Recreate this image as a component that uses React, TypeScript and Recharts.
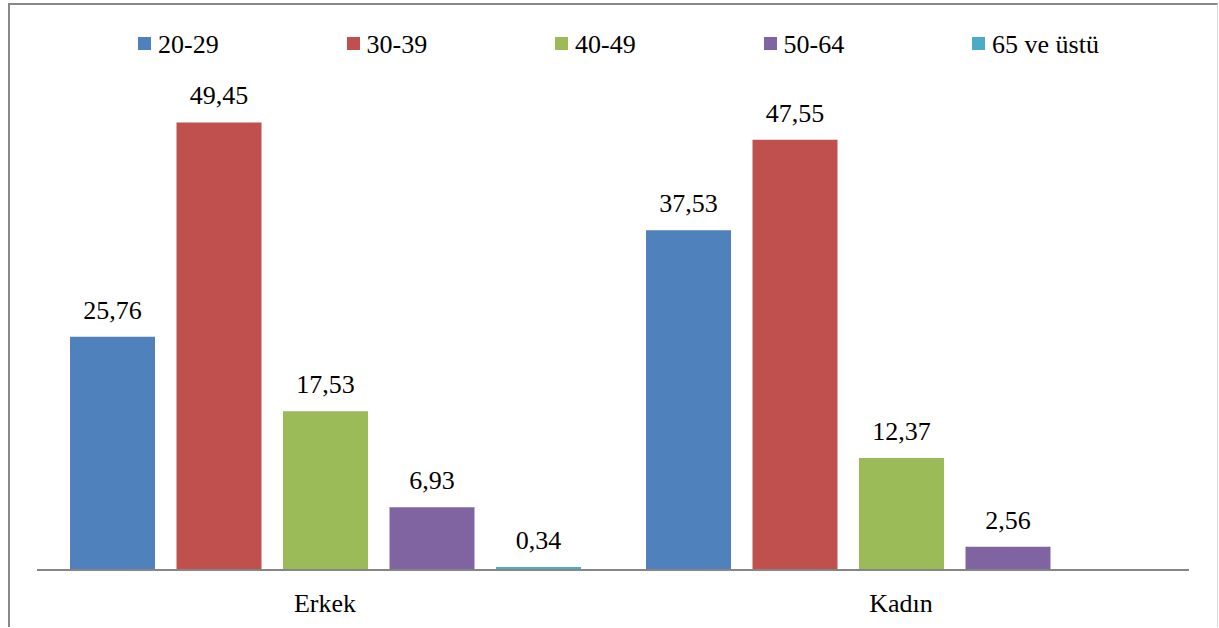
import React from "react";
import { Bar, BarChart, LabelList, XAxis, YAxis } from "recharts";

const groups = ["Erkek", "Kadın"];
const ageBands = ["20-29", "30-39", "40-49", "50-64", "65 ve üstü"];
const bandColors = ["#4F81BD", "#C0504D", "#9BBB59", "#8064A2", "#4BACC6"];

// percentage share of each age band, per group
const share2029 = [25.76, 37.53];
const share3039 = [49.45, 47.55];
const share4049 = [17.53, 12.37];
const share5064 = [6.93, 2.56];
const share65 = [0.34, null];

const seriesValues = [share2029, share3039, share4049, share5064, share65];

const rows = groups.map((g, i) => {
  const row: Record<string, string | number | null> = { group: g };
  ageBands.forEach((band, j) => {
    row[band] = seriesValues[j][i];
  });
  return row;
});

const FONT = "Liberation Serif";

const fmt = (v: number | null | undefined) =>
  v == null ? "" : v.toFixed(2).replace(".", ",");

const ValueLabel = (props: any) => {
  const { x, y, width, value } = props;
  if (value == null) return null;
  return (
    <text x={x + width / 2} y={y - 18} textAnchor="middle" fontFamily={FONT} fontSize={26} fill="#000">
      {fmt(value)}
    </text>
  );
};

const GroupTick = (props: any) => {
  const { x, y, payload } = props;
  return (
    <text x={x} y={y + 40} textAnchor="middle" fontFamily={FONT} fontSize={26} fill="#000">
      {payload.value}
    </text>
  );
};

export default function App() {
  return (
    <div style={{ fontFamily: FONT, fontSize: 26 }}>
      {/* chart frame */}
      <div
        style={{
          position: "absolute",
          left: 8,
          top: 3,
          width: 1207,
          height: 622,
          borderLeft: "2px solid #888",
          borderTop: "2px solid #888",
          borderRight: "1px solid #d9d9d9",
        }}
      />
      {/* legend row */}
      {ageBands.map((band, i) => (
        <div
          key={band}
          style={{ position: "absolute", left: 138 + i * 208.5, top: 28, whiteSpace: "nowrap", lineHeight: "30px", fontFamily: FONT }}
        >
          <span
            style={{
              display: "inline-block",
              width: 13,
              height: 13,
              background: bandColors[i],
              marginRight: 7,
              verticalAlign: "middle",
              position: "relative",
              top: -2,
            }}
          />
          <span style={{ verticalAlign: "middle" }}>{band}</span>
        </div>
      ))}
      <BarChart
        width={1219}
        height={628}
        data={rows}
        margin={{ top: 27, right: 30, left: 37, bottom: 0 }}
        barSize={85}
        barGap={21.5}
        style={{ position: "absolute", left: 0, top: 0 }}
      >
        <XAxis
          dataKey="group"
          height={58}
          tickLine={false}
          tickSize={0}
          axisLine={{ stroke: "#868686", strokeWidth: 2 }}
          tick={<GroupTick />}
          interval={0}
        />
        <YAxis hide domain={[0, 60]} />
        {ageBands.map((band, i) => (
          <Bar key={band} dataKey={band} fill={bandColors[i]} isAnimationActive={false}>
            <LabelList dataKey={band} content={<ValueLabel />} />
          </Bar>
        ))}
      </BarChart>
    </div>
  );
}
